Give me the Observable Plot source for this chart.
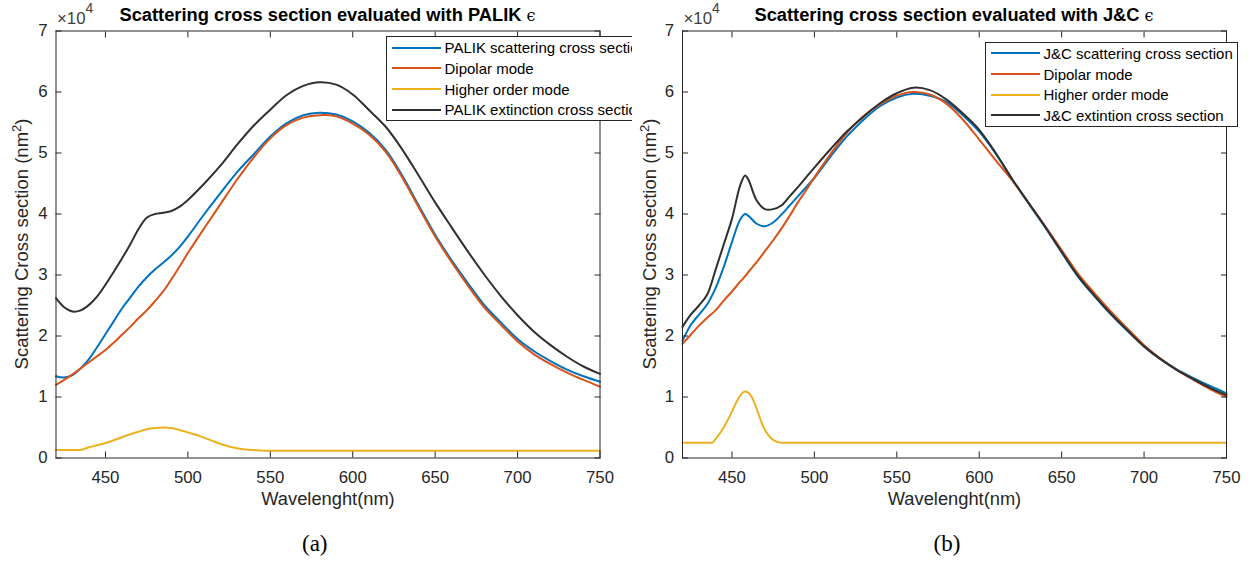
<!DOCTYPE html>
<html>
<head>
<meta charset="utf-8">
<script src="https://cdn.jsdelivr.net/npm/d3@7"></script>
<script src="https://cdn.jsdelivr.net/npm/@observablehq/plot@0.6"></script>
<style>
  body { margin: 0; background: #fff; }
  #fig { position: relative; width: 1250px; height: 563px; overflow: hidden; background: #fff;
         font-family: "Liberation Sans", Arial, Helvetica, sans-serif; }
  .panel { position: absolute; top: 0; height: 563px; overflow: hidden; }
  .panel svg { position: absolute; left: 0; top: 0; }
  .title { position: absolute; top: 5.5px; font-weight: bold; font-size: 18.3px; line-height: 18px;
           text-align: center; color: #000; white-space: nowrap; }
  .eps { font-family: "DejaVu Serif", serif; font-weight: normal; font-size: 16px; }
  .exp { position: absolute; top: 11px; font-size: 16.8px; line-height: 16.8px; color: #404040; white-space: nowrap; }
  .exp span { font-size: 14px; position: relative; top: -11.5px; }
  .ylab { position: absolute; top: 244px; font-size: 18.5px; line-height: 20px; white-space: nowrap; color: #262626;
          transform: translate(-50%, -50%) rotate(-90deg); }
  .ylab sup { font-size: 13px; line-height: 0; }
  .legend { position: absolute; background: #fff; border: 1px solid #262626; box-sizing: border-box; }
  .row { position: absolute; left: 0; height: 20.7px; display: flex; align-items: center; font-size: 15px;
         white-space: nowrap; color: #000; }
  .row i { display: inline-block; width: 49px; height: 2px; margin-left: 4.5px; margin-right: 4px; }
</style>
</head>
<body>
<div id="fig">
  <div class="panel" id="pa" style="left:0;width:632px"></div>
  <div class="panel" id="pb" style="left:632px;width:618px"></div>
</div>
<script>
// ---------- tick values ----------
const xTicks = [450, 500, 550, 600, 650, 700, 750];
const yTicks = [0, 1, 2, 3, 4, 5, 6, 7];

// ---------- texts ----------
const xLabel = "Wavelenght(nm)";
const yLabelText = "Scattering Cross section (nm";
const titleA = "Scattering cross section evaluated with PALIK";
const titleB = "Scattering cross section evaluated with J&C";
const legendA = ["PALIK scattering cross section", "Dipolar mode", "Higher order mode", "PALIK extinction cross section"];
const legendB = ["J&C scattering cross section", "Dipolar mode", "Higher order mode", "J&C extintion cross section"];
const colors = ["#0072BD", "#D95319", "#EDB120", "#303030"];

// ---------- panel (a): PALIK, values in units of 1e4 nm^2 ----------
const wlPalik = [420,425,430,435,440,445,450,455,460,465,470,475,480,485,490,495,500,
                 510,520,530,540,550,560,570,580,590,600,610,620,630,640,650,660,670,680,690,700,710,720,730,740,750];
const palikScattering = [1.34,1.32,1.36,1.47,1.62,1.82,2.03,2.24,2.45,2.63,2.81,2.96,3.09,3.20,3.32,3.46,3.63,
                 4.00,4.35,4.69,4.98,5.27,5.49,5.62,5.66,5.63,5.52,5.33,5.05,4.63,4.14,3.66,3.24,2.86,2.50,2.22,1.95,1.75,1.59,1.45,1.34,1.25];
const palikDipolar = [1.20,1.28,1.37,1.47,1.57,1.67,1.77,1.89,2.02,2.15,2.29,2.42,2.57,2.73,2.93,3.14,3.36,
                 3.77,4.17,4.57,4.93,5.24,5.46,5.58,5.62,5.60,5.48,5.30,5.02,4.60,4.11,3.63,3.21,2.82,2.46,2.18,1.91,1.70,1.54,1.40,1.28,1.17];
const palikExtinction = [2.62,2.47,2.40,2.42,2.51,2.65,2.84,3.05,3.27,3.50,3.75,3.94,4.00,4.02,4.05,4.12,4.23,
                 4.50,4.80,5.14,5.45,5.71,5.95,6.10,6.16,6.12,5.96,5.70,5.43,5.06,4.63,4.19,3.78,3.38,3.00,2.65,2.34,2.07,1.85,1.66,1.50,1.38];
const wlPalikHigher = [420,434,440,445,450,455,460,465,470,475,480,485,490,495,500,505,510,515,520,525,530,535,540,546,750];
const palikHigher = [0.13,0.13,0.175,0.21,0.245,0.29,0.34,0.39,0.43,0.47,0.49,0.50,0.49,0.46,0.42,0.38,0.33,0.28,0.23,0.19,0.16,0.14,0.13,0.12,0.12];

// ---------- panel (b): J&C ----------
const wlJC = [420,425,430,435,440,445,450,455,458,460,465,470,475,480,485,490,495,500,
              510,520,530,540,550,560,570,580,590,600,610,620,630,640,650,660,670,680,690,700,710,720,730,740,750];
const jcScattering = [1.92,2.18,2.35,2.52,2.78,3.13,3.54,3.91,4.00,3.97,3.84,3.80,3.86,3.99,4.14,4.29,4.44,4.59,
              4.95,5.28,5.55,5.77,5.91,5.97,5.94,5.84,5.62,5.35,4.99,4.57,4.17,3.78,3.37,2.97,2.65,2.35,2.08,1.83,1.62,1.45,1.31,1.18,1.06];
const jcDipolar = [1.87,2.02,2.17,2.30,2.42,2.58,2.73,2.89,2.98,3.05,3.21,3.39,3.57,3.76,3.97,4.19,4.39,4.60,
              4.99,5.34,5.61,5.80,5.94,6.00,5.96,5.81,5.55,5.22,4.88,4.55,4.18,3.80,3.41,3.02,2.70,2.40,2.12,1.85,1.63,1.44,1.28,1.13,1.00];
const jcExtinction = [2.15,2.35,2.50,2.68,3.08,3.50,3.92,4.47,4.63,4.56,4.22,4.08,4.08,4.14,4.29,4.44,4.60,4.76,
              5.07,5.36,5.60,5.82,5.98,6.07,6.03,5.88,5.65,5.38,5.00,4.57,4.18,3.79,3.38,2.98,2.66,2.36,2.09,1.83,1.62,1.44,1.29,1.15,1.03];
const wlJCHigher = [420,438,440,442,444,446,448,450,452,454,456,458,460,462,464,466,468,470,472,474,476,478,480,482,750];
const jcHigher = [0.25,0.25,0.31,0.38,0.46,0.55,0.65,0.76,0.88,0.98,1.06,1.09,1.07,1.00,0.88,0.73,0.58,0.46,0.38,0.32,0.28,0.26,0.25,0.25,0.25];

function makePanel(el, cfg) {
  const ink = "#262626";
  const lineMarks = cfg.series.map((s, k) =>
    Plot.line(s.wl.map((w, i) => ({w, v: s.v[i]})),
      {x: "w", y: "v", stroke: colors[k], strokeWidth: 2, curve: k === 2 ? "monotone-x" : "catmull-rom"}));
  const svg = Plot.plot({
    width: cfg.width, height: 563,
    marginTop: 30.5, marginBottom: 105.5, marginLeft: cfg.ml, marginRight: cfg.mr,
    style: {fontFamily: '"Liberation Sans", Arial, Helvetica, sans-serif', color: ink, background: "transparent", overflow: "visible"},
    x: {domain: [420, 750], label: null, axis: null},
    y: {domain: [0, 7], label: null, axis: null},
    marks: [
      ...lineMarks,
      Plot.frame({stroke: ink, strokeWidth: 1}),
      Plot.axisX(xTicks, {anchor: "bottom", tickSize: -6, fill: "none", stroke: ink, label: null}),
      Plot.axisX(xTicks, {anchor: "top", tickSize: -6, fill: "none", stroke: ink, label: null}),
      Plot.axisY(yTicks, {anchor: "left", tickSize: -6, fill: "none", stroke: ink, label: null}),
      Plot.axisY(yTicks, {anchor: "right", tickSize: -6, fill: "none", stroke: ink, label: null}),
      Plot.axisX(xTicks, {anchor: "bottom", tickSize: 0, tickPadding: 13, fontSize: 16.8, fill: ink, label: null, tickFormat: d => String(d)}),
      Plot.axisY(yTicks, {anchor: "left", tickSize: 0, tickPadding: 8.5, fontSize: 16.8, fill: ink, label: null, tickFormat: d => String(d)}),
      Plot.text([xLabel], {text: d => d, frameAnchor: "bottom", dy: 46.5, fontSize: 18.3, fill: ink}),
      Plot.text([cfg.caption], {text: d => d, frameAnchor: "bottom-left", dx: cfg.capDx, dy: 93, fontSize: 23,
        fontFamily: '"Liberation Serif", "Times New Roman", serif', fill: "#000"})
    ]
  });
  el.appendChild(svg);

  const plotW = cfg.width - cfg.ml - cfg.mr;
  const t = document.createElement("div");
  t.className = "title";
  t.style.left = cfg.ml + "px"; t.style.width = plotW + "px";
  t.append(document.createTextNode(cfg.title + " "));
  const e = document.createElement("span"); e.className = "eps"; e.textContent = "\u03F5"; t.append(e);
  el.appendChild(t);

  const x = document.createElement("div");
  x.className = "exp"; x.style.left = (cfg.ml + 1.5) + "px";
  x.innerHTML = "\u00D710<span>4</span>";
  el.appendChild(x);

  const y = document.createElement("div");
  y.className = "ylab"; y.style.left = cfg.ylabX + "px";
  y.append(document.createTextNode(yLabelText));
  const sup = document.createElement("sup"); sup.textContent = "2"; y.append(sup);
  y.append(document.createTextNode(")"));
  el.appendChild(y);

  const lg = document.createElement("div");
  lg.className = "legend";
  lg.style.left = cfg.leg[0] + "px"; lg.style.top = cfg.leg[1] + "px";
  lg.style.width = cfg.leg[2] + "px"; lg.style.height = cfg.leg[3] + "px";
  cfg.names.forEach((n, k) => {
    const r = document.createElement("div");
    r.className = "row";
    r.style.top = (0.3 + k * 20.7) + "px";
    const sw = document.createElement("i"); sw.style.background = colors[k];
    r.append(sw, document.createTextNode(n));
    lg.appendChild(r);
  });
  el.appendChild(lg);
}

makePanel(document.getElementById("pa"), {
  width: 632, ml: 55.5, mr: 32.5, caption: "(a)", capDx: 246, title: titleA, ylabX: 22,
  names: legendA, leg: [386, 36, 270, 85],
  series: [
    {wl: wlPalik, v: palikScattering},
    {wl: wlPalik, v: palikDipolar},
    {wl: wlPalikHigher, v: palikHigher},
    {wl: wlPalik, v: palikExtinction}
  ]
});
makePanel(document.getElementById("pb"), {
  width: 618, ml: 50, mr: 24, caption: "(b)", capDx: 251, title: titleB, ylabX: 18,
  names: legendB, leg: [353, 41.7, 253, 85.6],
  series: [
    {wl: wlJC, v: jcScattering},
    {wl: wlJC, v: jcDipolar},
    {wl: wlJCHigher, v: jcHigher},
    {wl: wlJC, v: jcExtinction}
  ]
});
</script>
</body>
</html>
